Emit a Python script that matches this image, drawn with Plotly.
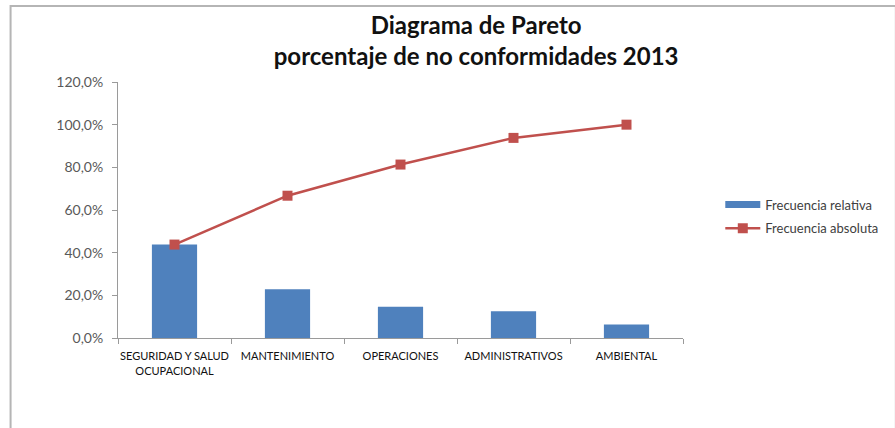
import plotly.graph_objects as go

categories = ["SEGURIDAD Y SALUD<br>OCUPACIONAL", "MANTENIMIENTO", "OPERACIONES",
              "ADMINISTRATIVOS", "AMBIENTAL"]
frecuencia_relativa = [43.8, 22.9, 14.6, 12.5, 6.3]
frecuencia_absoluta = [43.8, 66.7, 81.3, 93.8, 100.0]
y_ticks = [0, 20, 40, 60, 80, 100, 120]
y_tick_labels = ["0,0%", "20,0%", "40,0%", "60,0%", "80,0%", "100,0%", "120,0%"]

font_family = "Lato, 'Open Sans', sans-serif"
BLUE = "#4F81BD"
RED = "#C0504D"

fig = go.Figure()
fig.add_trace(go.Bar(
    x=categories, y=frecuencia_relativa, name="Frecuencia relativa",
    marker=dict(color=BLUE, line=dict(width=0)), width=0.4, showlegend=False,
))
# legend-only entry that shows the bar series as a wide rectangle
fig.add_trace(go.Scatter(
    x=[None], y=[None], name="Frecuencia relativa", mode="lines",
    line=dict(color=BLUE, width=7), legendgroup="rel",
))
fig.add_trace(go.Scatter(
    x=categories, y=frecuencia_absoluta, name="Frecuencia absoluta",
    mode="lines+markers", legendgroup="abs",
    line=dict(color=RED, width=2.5),
    marker=dict(symbol="square", size=10, color=RED),
))

fig.update_layout(
    width=895, height=428,
    margin=dict(l=118, r=209, t=82, b=90),
    paper_bgcolor="white", plot_bgcolor="white",
    font=dict(family=font_family, color="#404040"),
    title=dict(
        text="<b>Diagrama de Pareto<br>porcentaje de no conformidades 2013</b>",
        x=0.532, xanchor="center", y=0.92, yanchor="top",
        font=dict(size=24, color="#111111", family=font_family),
    ),
    showlegend=True,
    legend=dict(
        x=1.066, xanchor="left", y=0.58, yanchor="top",
        font=dict(size=13, color="#404040", family=font_family),
        bgcolor="rgba(0,0,0,0)", tracegroupgap=4, itemwidth=35,
    ),
    xaxis=dict(
        type="category", showline=True, linecolor="#9a9a9a", linewidth=1,
        ticks="outside", tickson="boundaries", ticklen=5, tickcolor="#9a9a9a",
        tickfont=dict(size=11, color="#111111", family=font_family),
        tickangle=0, ticklabelstandoff=8,
        showgrid=False, zeroline=False,
    ),
    yaxis=dict(
        range=[0, 120], tickvals=y_ticks, ticktext=y_tick_labels,
        showline=True, linecolor="#9a9a9a", linewidth=1,
        ticks="outside", ticklen=5, tickcolor="#9a9a9a",
        tickfont=dict(size=14, color="#595959", family=font_family),
        ticklabelstandoff=6,
        showgrid=False, zeroline=False,
    ),
    shapes=[dict(
        type="rect", xref="paper", yref="paper",
        x0=(10 - 118) / 568, x1=(900 - 118) / 568,
        y0=(90 - 435) / 256, y1=(338 - 6) / 256,
        line=dict(color="#b5b5b5", width=2), fillcolor="rgba(0,0,0,0)", layer="below",
    )],
)

fig.write_html("out.html", config={"displayModeBar": False},
               post_script="document.body.style.margin='0';")
